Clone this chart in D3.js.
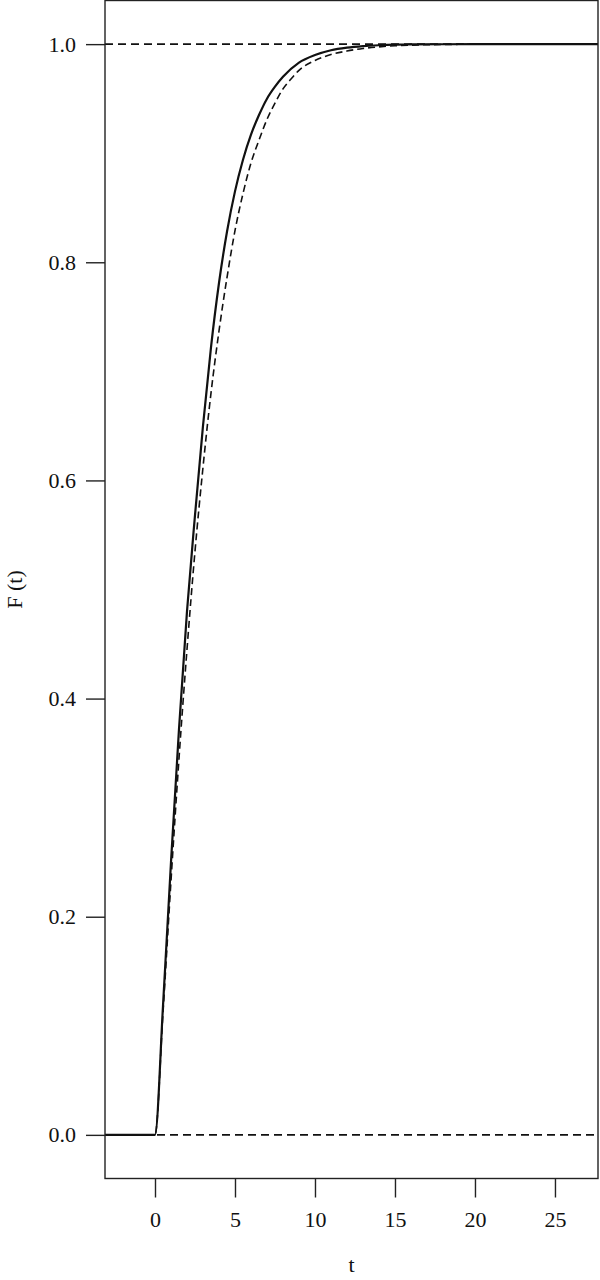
<!DOCTYPE html>
<html>
<head>
<meta charset="utf-8">
<script src="https://cdn.jsdelivr.net/npm/d3@7"></script>
<style>
  html, body { margin: 0; padding: 0; background: #fff; }
  svg { display: block; }
  text { font-family: "Liberation Serif", "DejaVu Serif", serif; fill: #111; }
</style>
</head>
<body>
<svg id="chart" width="600" height="1280"></svg>
<script>
// ---- data ----
const tSolid = [-4, 0, 0.5, 1, 1.5, 2, 2.5, 3, 3.5, 4, 4.5, 5, 5.5, 6, 6.5, 7, 7.5, 8, 9, 10, 11, 12, 13, 14, 15, 16, 18, 20, 26.5, 30];
const fSolid = [0, 0, 0.118, 0.25, 0.372, 0.48, 0.568, 0.650, 0.722, 0.781, 0.828, 0.865, 0.894, 0.917, 0.935, 0.950, 0.961, 0.970, 0.983, 0.990, 0.9944, 0.9968, 0.9982, 0.999, 0.9995, 0.9997, 0.9999, 1, 1, 1];
const tDashed = [-4, 0, 0.5, 1, 1.5, 2, 2.5, 3, 3.5, 4, 4.5, 5, 5.5, 6, 6.5, 7, 7.5, 8, 8.5, 9, 10, 11, 12, 13, 14, 15, 16, 18, 20, 22, 26.5, 30];
const fDashed = [0, 0, 0.112, 0.233, 0.345, 0.445, 0.535, 0.612, 0.680, 0.737, 0.786, 0.829, 0.863, 0.891, 0.912, 0.931, 0.946, 0.959, 0.968, 0.976, 0.985, 0.9905, 0.9937, 0.996, 0.9975, 0.9985, 0.9991, 0.9997, 0.9999, 1, 1, 1];
const refLines = [0, 1];
const xTicks = [0, 5, 10, 15, 20, 25];
const yTicks = [0, 0.2, 0.4, 0.6, 0.8, 1.0];
const xLabel = "t";
const yLabel = "F (t)";

// ---- layout ----
const box = { left: 105, right: 598, top: 0.5, bottom: 1178.5 };
const svg = d3.select("#chart");

const x = d3.scaleLinear().domain([-3.125, 27.69]).range([box.left, box.right]);
const y = d3.scaleLinear().domain([-0.04, 1.04]).range([box.bottom, box.top]);

svg.append("defs").append("clipPath").attr("id", "clip")
  .append("rect")
  .attr("x", box.left).attr("y", box.top)
  .attr("width", box.right - box.left).attr("height", box.bottom - box.top);

const plot = svg.append("g").attr("clip-path", "url(#clip)");

// reference dashed lines
plot.selectAll("line.ref").data(refLines).enter().append("line")
  .attr("class", "ref")
  .attr("x1", box.left).attr("x2", box.right)
  .attr("y1", d => y(d)).attr("y2", d => y(d))
  .attr("stroke", "#111").attr("stroke-width", 1.6)
  .attr("stroke-dasharray", "8,5");

const line = d3.line().curve(d3.curveMonotoneX);

plot.append("path")
  .datum(tDashed.map((t, i) => [x(t), y(fDashed[i])]))
  .attr("d", line)
  .attr("fill", "none").attr("stroke", "#111")
  .attr("stroke-width", 1.6).attr("stroke-dasharray", "7,4");

plot.append("path")
  .datum(tSolid.map((t, i) => [x(t), y(fSolid[i])]))
  .attr("d", line)
  .attr("fill", "none").attr("stroke", "#111")
  .attr("stroke-width", 2.2);

// box
svg.append("rect")
  .attr("x", box.left).attr("y", box.top)
  .attr("width", box.right - box.left).attr("height", box.bottom - box.top)
  .attr("fill", "none").attr("stroke", "#222").attr("stroke-width", 1.4);

// axes
const xAxis = d3.axisBottom(x).tickValues(xTicks).tickSize(19).tickPadding(14)
  .tickFormat(d3.format("d"));
const gx = svg.append("g").attr("transform", `translate(0,${box.bottom})`).call(xAxis);
gx.select(".domain").remove();
gx.selectAll("line").attr("stroke", "#222").attr("stroke-width", 1.4);
gx.selectAll("text").attr("font-size", 22).attr("font-family", "Liberation Serif, serif").attr("fill", "#111");

const yAxis = d3.axisLeft(y).tickValues(yTicks).tickSize(19).tickPadding(10)
  .tickFormat(d3.format(".1f"));
const gy = svg.append("g").attr("transform", `translate(${box.left},0)`).call(yAxis);
gy.select(".domain").remove();
gy.selectAll("line").attr("stroke", "#222").attr("stroke-width", 1.4);
gy.selectAll("text").attr("font-size", 22).attr("font-family", "Liberation Serif, serif").attr("fill", "#111");

// axis titles
svg.append("text")
  .attr("x", (box.left + box.right) / 2).attr("y", 1272)
  .attr("text-anchor", "middle").attr("font-size", 22)
  .text(xLabel);

svg.append("text")
  .attr("transform", `translate(22,${(box.top + box.bottom) / 2}) rotate(-90)`)
  .attr("text-anchor", "middle").attr("font-size", 22)
  .text(yLabel);
</script>
</body>
</html>
